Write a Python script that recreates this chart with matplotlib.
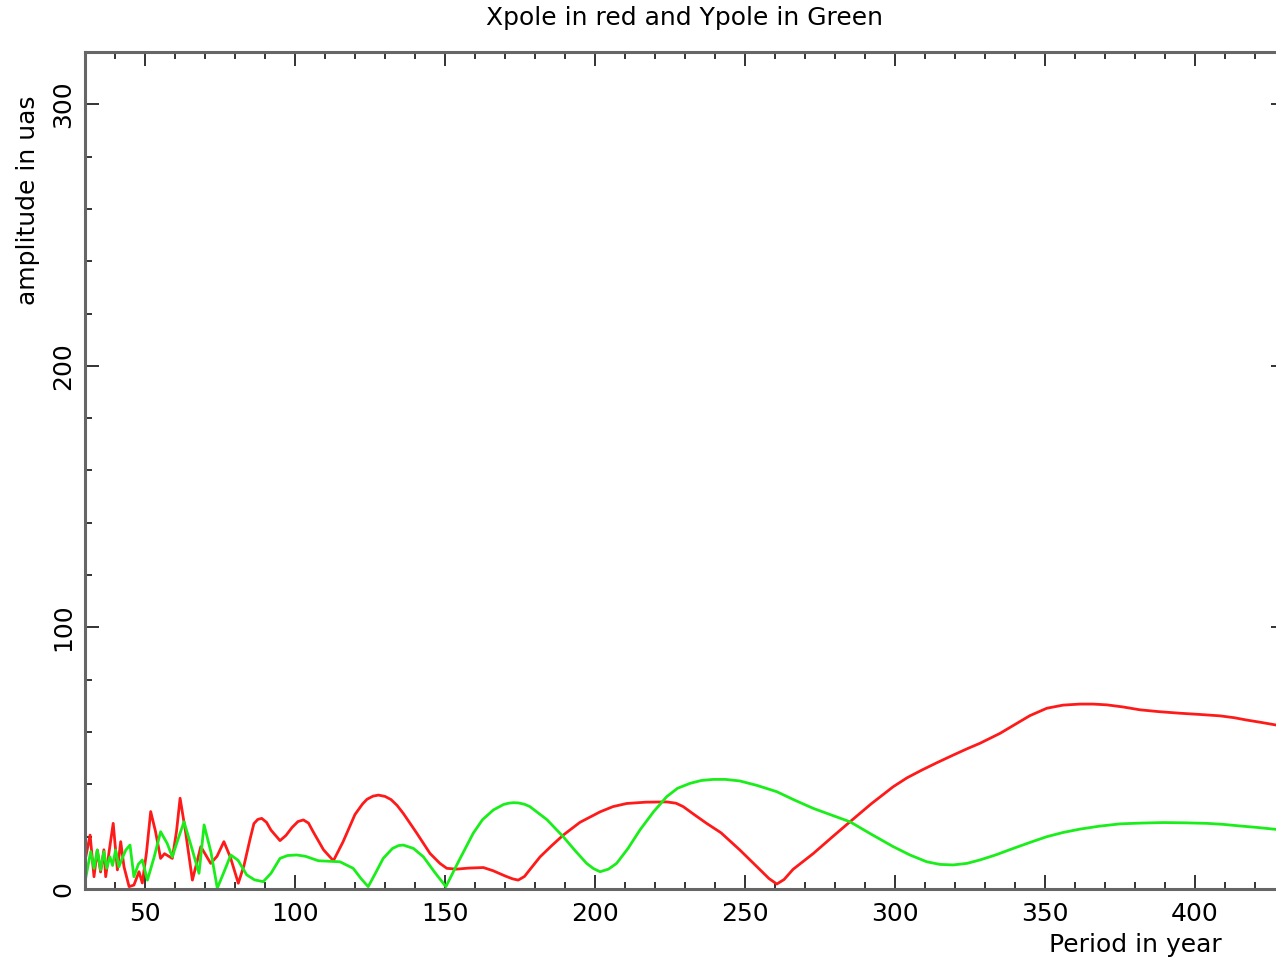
import numpy as np
import matplotlib
matplotlib.use("Agg")
import matplotlib.pyplot as plt
from matplotlib.ticker import MultipleLocator

# amplitude spectrum of polar motion, Xpole (red) and Ypole (green)
x_period = [30.0, 30.2, 31.7, 33.0, 34.1, 35.2, 36.3, 36.9, 38.0, 39.4, 40.8, 41.9,
            43.0, 44.7, 46.3, 48.0, 49.1, 50.5, 51.9, 53.5, 55.2, 56.5, 59.1, 60.5,
            61.7, 63.5, 65.8, 68.6, 71.9, 74.0, 76.3, 78.5, 81.1, 83.0, 85.0, 86.3,
            87.6, 88.9, 90.5, 92.0, 95.0, 97.0, 99.0, 101.0, 102.8, 104.5, 106.0,
            109.5, 112.8, 116.0, 120.0, 122.5, 124.0, 126.0, 127.8, 130.0, 132.0,
            134.0, 136.1, 140.5, 145.0, 148.3, 150.6, 153.9, 158.0, 162.8, 166.0,
            170.0, 172.5, 174.4, 176.5, 178.0, 181.7, 185.5, 189.4, 195.0, 201.7,
            206.0, 210.6, 217.0, 223.9, 227.0, 229.4, 233.0, 237.2, 242.0, 248.3,
            254.0, 258.0, 260.6, 263.0, 266.0, 272.8, 279.0, 285.0, 292.0, 299.4,
            304.0, 309.0, 314.0, 319.4, 324.0, 328.3, 335.0, 339.4, 345.0, 350.6,
            356.0, 361.7, 366.0, 370.6, 376.0, 381.7, 388.0, 395.0, 402.0, 408.3,
            413.0, 417.2, 422.0, 427.0]
x_amp = [11.0, 12.0, 20.6, 4.7, 14.9, 6.5, 15.0, 4.7, 14.0, 25.1, 7.3, 18.1,
         8.5, 0.9, 1.5, 6.6, 2.3, 14.0, 29.6, 22.0, 11.7, 13.5, 11.7, 22.0,
         34.7, 22.0, 3.4, 16.2, 9.8, 12.5, 18.1, 12.0, 2.2, 9.0, 19.0, 25.0,
         26.6, 27.0, 25.5, 22.5, 18.5, 20.5, 23.5, 25.8, 26.4, 25.2, 22.0,
         15.0, 10.8, 18.0, 28.5, 32.5, 34.3, 35.5, 35.9, 35.4, 34.2,
         32.0, 28.9, 21.5, 13.6, 9.8, 7.9, 7.6, 8.0, 8.2, 7.0,
         5.0, 3.9, 3.4, 4.8, 7.0, 12.3, 16.5, 20.6, 25.5, 29.5,
         31.5, 32.7, 33.2, 33.3, 32.8, 31.5, 28.5, 25.1, 21.5, 14.9,
         8.5, 4.0, 1.9, 3.6, 7.5, 13.6, 19.8, 25.7, 32.5, 39.1,
         42.5, 45.5, 48.3, 51.2, 53.6, 55.7, 59.5, 62.5, 66.3, 69.1,
         70.3, 70.7, 70.7, 70.4, 69.6, 68.5, 67.8, 67.2, 66.7, 66.2,
         65.5, 64.6, 63.7, 62.7]

y_period = [30.0, 30.2, 31.9, 33.0, 34.1, 35.2, 36.3, 37.2, 38.3, 39.2, 40.2, 41.3,
            42.5, 43.6, 45.0, 46.3, 47.8, 49.1, 50.8, 53.0, 55.2, 57.4, 59.1, 61.0,
            63.0, 65.5, 68.0, 69.7, 72.0, 74.1, 76.5, 78.6, 81.0, 83.9, 86.5, 89.4,
            92.0, 95.0, 97.5, 100.6, 103.5, 107.8, 111.5, 115.0, 119.4, 122.0, 124.4,
            126.8, 129.4, 132.5, 134.5, 136.1, 139.5, 142.8, 146.5, 150.3, 154.5,
            159.4, 162.5, 166.1, 169.5, 171.2, 172.8, 174.5, 176.5, 178.3, 184.0,
            189.4, 193.5, 197.2, 199.5, 201.7, 204.5, 207.2, 211.0, 215.0, 219.5,
            223.9, 227.5, 231.7, 235.5, 239.4, 243.5, 248.3, 254.0, 260.6, 266.5,
            272.8, 279.0, 285.0, 292.0, 299.4, 305.0, 310.6, 315.0, 319.4, 324.0,
            328.3, 333.5, 339.4, 345.0, 350.6, 356.0, 361.7, 368.0, 375.0, 382.0,
            389.4, 396.5, 403.9, 409.5, 415.0, 421.0, 427.0]
y_amp = [3.4, 4.0, 14.3, 7.9, 14.9, 7.3, 14.3, 7.9, 12.3, 9.0, 14.9, 8.5,
         12.0, 14.9, 16.8, 4.7, 9.5, 11.1, 3.4, 12.0, 21.9, 17.4, 12.3, 19.0,
         25.7, 16.0, 6.0, 24.5, 14.0, 0.3, 7.0, 13.0, 11.0, 5.4, 3.5, 2.8,
         6.0, 11.7, 12.8, 13.0, 12.5, 10.8, 10.6, 10.4, 7.9, 4.0, 0.9,
         6.0, 11.7, 15.5, 16.6, 16.8, 15.5, 12.3, 6.5, 0.9, 10.5,
         21.3, 26.5, 30.2, 32.3, 32.8, 33.0, 32.9, 32.4, 31.5, 26.5,
         20.0, 14.5, 9.8, 7.8, 6.6, 7.6, 9.8, 15.5, 22.6, 29.5,
         35.3, 38.5, 40.4, 41.5, 41.9, 41.9, 41.3, 39.6, 37.2, 34.0,
         30.8, 28.2, 25.7, 21.0, 16.2, 13.0, 10.4, 9.4, 9.2, 9.8,
         11.1, 13.0, 15.5, 17.8, 20.0, 21.6, 22.9, 24.0, 24.9, 25.2,
         25.4, 25.3, 25.1, 24.7, 24.1, 23.5, 22.8]

fig = plt.figure(figsize=(12.76, 9.63), dpi=100)
ax = fig.add_axes([85 / 1276, 74 / 963, 1200 / 1276, 837 / 963])

ax.plot(x_period, x_amp, color="#ff1a1a", lw=2.0, solid_joinstyle="round")
ax.plot(y_period, y_amp, color="#1aee1a", lw=2.0, solid_joinstyle="round")

ax.set_xlim(30, 430)
ax.set_ylim(0, 320)

ax.xaxis.set_major_locator(MultipleLocator(50))
ax.xaxis.set_minor_locator(MultipleLocator(10))
ax.yaxis.set_major_locator(MultipleLocator(100))
ax.yaxis.set_minor_locator(MultipleLocator(20))

for s in ax.spines.values():
    s.set_color("#666666")
    s.set_linewidth(2.2)

ax.tick_params(which="both", direction="in", top=True, right=True,
               color="#333333", width=1.4, labelsize=18)
ax.tick_params(which="major", length=10)
ax.tick_params(which="minor", length=5)
ax.tick_params(axis="x", pad=9)
ax.tick_params(axis="y", pad=7, labelrotation=90)
for lab in ax.get_yticklabels():
    lab.set_va("center")

fig.text(685 / 1276, 1 - 18 / 963, "Xpole in red and Ypole in Green",
         ha="center", va="center", fontsize=18)
fig.text(28 / 1276, 1 - 200 / 963, "amplitude in uas", rotation=90,
         ha="center", va="center", fontsize=18)
fig.text(1135 / 1276, 1 - 945 / 963, "Period in year",
         ha="center", va="center", fontsize=18)

fig.savefig("out.png", dpi=100)
